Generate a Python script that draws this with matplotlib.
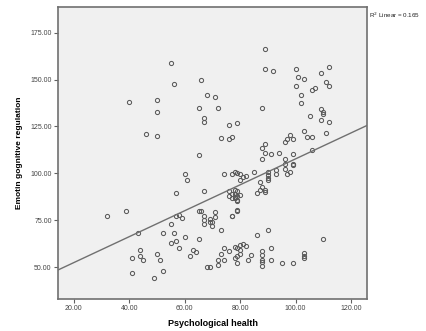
#!/usr/bin/env python3
"""SPSS-style scatter of psychological health vs. emotion cognitive regulation."""

import matplotlib
matplotlib.use("Agg")
import matplotlib.pyplot as plt
from matplotlib.ticker import FormatStrFormatter

# values
psych_health = [
    40, 50, 50, 46, 50,
    55, 56, 66, 89, 89, 68, 71, 65, 72, 88, 67, 67, 76, 79, 73, 76, 77, 88, 89,
    92, 100, 101, 103, 100, 109, 112, 111, 112, 107, 106, 102, 102, 109, 110, 110,
    109, 112, 105, 103, 104, 106, 111, 98, 99, 97, 96, 106, 99, 91, 94, 89, 65,
    60, 61, 57, 67, 74, 77, 78, 79, 80, 80, 82, 81, 85, 88, 90, 90, 90, 90, 87,
    88, 89, 86, 76, 77, 78, 79, 80, 78, 79, 79, 77, 93, 93, 96, 97, 98, 99, 96,
    99, 96, 76, 77, 78, 79, 79, 78, 87, 89,
    32, 39, 43, 52, 55, 56, 55, 57, 58, 57, 58, 59, 60, 63, 62, 64, 65, 65, 66,
    67, 67, 67, 68, 69, 70, 70, 69, 71, 71, 69, 73, 77, 79, 86, 90, 110,
    44, 41, 44, 45, 50, 51, 41, 49, 52, 72, 72, 74, 73, 74, 76, 78, 79, 80, 81,
    82, 80, 80, 79, 78, 79, 83, 84, 88, 88, 88, 88, 88, 91, 91, 95, 99, 103, 103,
    103,
]
emotion_regulation = [
    138, 139, 132.5, 121, 120,
    159, 147.5, 149.5, 166.5, 155.5, 141.5, 140.5, 135, 135, 135, 129.5, 127.5,
    126, 127, 119, 118.5, 119.5, 113.5, 115.5,
    154.5, 155.5, 151.5, 150.5, 146.5, 153.5, 156.5, 148.5, 146.5, 145.5, 144.5,
    141.5, 137.5, 134.5, 132.5, 131.5, 128.5, 127.5, 130.5, 122.5, 119.5, 119.5,
    121.5, 120.5, 118.5, 118.5, 116.5, 112.5, 110.5, 110.5, 111, 111, 109.5,
    99.5, 96.5, 89.5, 90.5, 99.5, 99.5, 100.5, 100, 99.5, 96.5, 98.5, 98, 100.5,
    107.5, 100.5, 99, 97.5, 96.5, 95.5, 92.5, 90, 89.5, 90.5, 89, 89, 90.5, 88.5,
    87.5, 85.5, 80.5, 77, 102, 99.5, 102.5, 99.5, 100.5, 104.5, 107.5, 105, 105,
    88, 87, 87, 88, 85, 91, 91, 91,
    77, 80, 68, 68, 73, 68, 63, 64, 60, 77, 78, 76, 66, 59, 56, 58, 65, 80, 80,
    77, 75, 73, 50, 50, 74, 72, 75.5, 79.5, 76.5, 74, 70, 77, 80, 67, 70, 65,
    59, 55, 56, 54, 57, 54, 47, 44, 48, 53.5, 51, 60, 57, 54, 58.5, 60.5, 60,
    61.5, 62.5, 61, 59, 57, 56, 55, 52, 54, 56.5, 58.5, 56.5, 54, 52.5, 50.5,
    60, 54, 52, 52, 57.5, 56, 55,
]

# linear fit shown in the chart
fit_intercept = 38.5
fit_slope = 0.692
r_squared = 0.165

x_ticks = [20, 40, 60, 80, 100, 120]
y_ticks = [50, 75, 100, 125, 150, 175]


def main() -> None:
    plt.rcParams["font.family"] = ["Liberation Sans", "DejaVu Sans"]

    fig = plt.figure(figsize=(4.26, 3.31), dpi=100)
    fig.patch.set_facecolor("white")
    ax = fig.add_axes([0.136, 0.097, 0.726, 0.882])
    ax.set_facecolor("#F0F0F0")

    xlim = (14.3, 125.8)
    ax.set_xlim(*xlim)
    ax.set_ylim(33.0, 188.7)

    ax.plot(psych_health, emotion_regulation, linestyle="none", marker="o",
            markersize=3.0, markerfacecolor="none", markeredgecolor="#5a5a5a",
            markeredgewidth=0.75)

    ax.plot(xlim, [fit_intercept + fit_slope * v for v in xlim],
            color="#707070", linewidth=1.0)

    ax.set_xticks(x_ticks)
    ax.set_yticks(y_ticks)
    ax.xaxis.set_major_formatter(FormatStrFormatter("%.2f"))
    ax.yaxis.set_major_formatter(FormatStrFormatter("%.2f"))
    ax.tick_params(axis="both", direction="out", length=3, width=0.8,
                   color="#606060", labelsize=5, labelcolor="#444444", pad=1.5)

    for side in ["left", "bottom", "top", "right"]:
        ax.spines[side].set_color("#707070")
        ax.spines[side].set_linewidth(1.2)

    ax.set_xlabel("Psychological health", fontsize=6.5, fontweight="bold", labelpad=5)
    ax.set_ylabel("Emotin gognitive regulation", fontsize=6, fontweight="bold", labelpad=5)

    fig.text(0.866, 0.955, f"R$^2$ Linear = {r_squared}", fontsize=4.5,
             color="#222222", ha="left", va="center")

    fig.savefig("out.png", dpi=100)
    plt.close(fig)


if __name__ == "__main__":
    main()
